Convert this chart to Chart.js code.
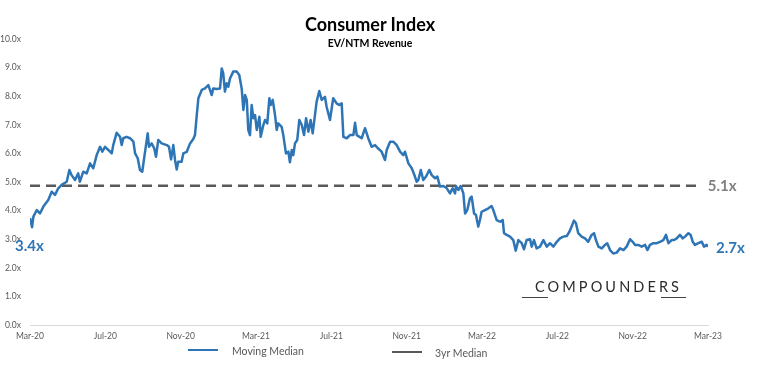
<!DOCTYPE html>
<html>
<head>
<meta charset="utf-8">
<script src="https://cdn.jsdelivr.net/npm/chart.js@4.4.1/dist/chart.umd.min.js"></script>
<style>
  html, body { margin: 0; padding: 0; background: #ffffff; }
  #wrap { position: relative; width: 769px; height: 368px; overflow: hidden; font-family: Lato, "Open Sans", sans-serif; }
  #c { position: absolute; left: 0; top: 0; }
  .t { position: absolute; white-space: nowrap; line-height: 1; transform: translate(-50%, -50%); }
  .l { position: absolute; white-space: nowrap; line-height: 1; transform: translate(0, -50%); }
  .ln { position: absolute; height: 0; }
</style>
</head>
<body>
<div id="wrap">
  <canvas id="c" width="769" height="368" style="width:769px;height:368px"></canvas>
  <div class="t" id="title" style="left:370px; top:24px; font-size:18px; font-weight:700; color:#000;"></div>
  <div class="t" id="subtitle" style="left:370px; top:42.5px; font-size:10.5px; font-weight:700; color:#000;"></div>
  <div class="ln" style="left:188px; top:349px; width:30px; border-top:2.5px solid #2E75B6;"></div>
  <div class="l" id="leg1" style="left:232px; top:351px; font-size:10.5px; color:#595959;"></div>
  <div class="ln" style="left:392px; top:351px; width:30px; border-top:2.5px solid #595959;"></div>
  <div class="l" id="leg2" style="left:435px; top:353px; font-size:10.5px; color:#595959;"></div>
  <div class="l" id="wm" style="left:535px; top:287px; font-size:14.5px; letter-spacing:3.1px; color:#2b2b2b;"></div>
  <div class="ln" style="left:522px; top:297px; width:26px; border-top:1.5px solid #444;"></div>
  <div class="ln" style="left:661px; top:297px; width:25px; border-top:1.5px solid #444;"></div>
</div>
<script>
// ---- Text ----
const titleText = 'Consumer Index';
const subtitleText = 'EV/NTM Revenue';
const seriesName = 'Moving Median';
const medianName = '3yr Median';
const watermarkText = 'COMPOUNDERS';
const labelStart = '3.4x';
const labelEnd = '2.7x';
const labelMedian = '5.1x';

// ---- Axis tick labels (every 4 months from Mar-20) ----
const tickLabels = ['Mar-20','Jul-20','Nov-20','Mar-21','Jul-21','Nov-21','Mar-22','Jul-22','Nov-22','Mar-23'];

// ---- Series: months since Mar-20, and EV/NTM revenue multiple ----
const months = [
  0,0.11,0.18,0.36,0.53,0.71,0.97,1.15,1.33,1.50,
  1.68,1.95,2.09,2.21,2.39,2.56,2.65,2.83,3.01,3.19,
  3.36,3.54,3.72,3.84,3.98,4.16,4.34,4.42,4.60,4.78,
  4.87,4.95,5.13,5.31,5.49,5.58,5.72,5.84,5.96,6.07,
  6.25,6.32,6.46,6.60,6.69,6.81,6.99,7.26,7.38,7.49,
  7.61,7.70,7.79,7.87,8.05,8.14,8.32,8.50,8.67,8.76,
  8.85,8.94,9.12,9.29,9.47,9.65,9.73,9.91,10.09,10.18,
  10.26,10.35,10.44,10.53,10.62,10.79,10.98,11.11,11.24,11.33,
  11.42,11.51,11.59,11.68,11.77,11.86,11.95,12.04,12.18,12.25,
  12.39,12.48,12.60,12.71,12.78,12.89,13.01,13.10,13.18,13.36,
  13.45,13.59,13.72,13.80,13.90,13.98,14.07,14.19,14.30,14.43,
  14.55,14.66,14.78,14.90,15.01,15.13,15.22,15.36,15.49,15.66,
  15.75,15.84,15.93,16.02,16.10,16.28,16.42,16.55,16.64,16.82,
  16.99,17.17,17.26,17.35,17.61,17.79,17.96,18.14,18.32,18.49,
  18.67,18.85,18.94,19.12,19.29,19.47,19.65,19.82,19.91,20.09,
  20.27,20.44,20.53,20.62,20.75,20.88,21.03,21.20,21.33,21.51,
  21.63,21.77,21.95,22.13,22.30,22.44,22.57,22.62,22.74,22.87,
  23.01,23.10,23.22,23.36,23.45,23.58,23.68,23.80,23.89,23.98,
  24.16,24.34,24.51,24.60,24.78,24.96,25.10,25.17,25.31,25.49,
  25.66,25.79,25.93,26.11,26.23,26.37,26.55,26.64,26.76,26.90,
  27.08,27.26,27.44,27.61,27.79,27.97,28.14,28.32,28.50,28.64,
  28.76,28.88,28.99,29.11,29.29,29.47,29.64,29.82,29.95,30.05,
  30.18,30.36,30.53,30.65,30.80,30.97,31.15,31.33,31.51,31.68,
  31.86,32.00,32.13,32.30,32.48,32.66,32.78,32.92,33.10,33.28,
  33.45,33.63,33.77,33.90,34.07,34.20,34.34,34.51,34.66,34.78,
  34.96,35.08,35.19,35.31,35.49,35.67,35.79,35.93,36.00
];
const values = [
  3.74,3.42,3.79,4.02,3.90,4.14,4.37,4.66,4.55,4.78,
  4.90,5.01,5.42,5.24,5.07,5.30,5.01,5.36,5.30,5.65,
  5.48,5.94,6.23,6.06,6.23,6.12,6.00,6.29,6.72,6.58,
  6.29,6.53,6.58,6.53,6.41,6.00,5.83,5.42,5.36,5.88,
  6.70,6.23,6.35,6.17,5.88,6.47,6.35,6.29,6.23,5.79,
  6.29,5.77,5.44,5.71,5.71,6.00,6.05,6.35,6.50,6.64,
  7.30,7.93,8.22,8.27,8.39,8.04,8.27,8.25,8.27,8.97,
  8.80,8.16,8.45,8.33,8.62,8.86,8.86,8.74,8.27,7.52,
  8.04,7.87,6.82,6.64,7.69,7.23,7.34,6.82,7.28,6.58,
  6.99,7.17,7.05,7.93,7.69,7.87,7.34,6.82,7.05,6.93,
  6.64,6.00,6.06,5.69,6.12,5.94,6.35,6.47,7.17,6.99,
  6.64,7.23,6.76,7.17,6.70,7.34,7.81,8.18,7.87,7.98,
  7.63,7.40,7.17,7.58,7.93,7.75,7.69,7.75,6.58,6.53,
  6.64,6.64,7.07,6.64,6.53,6.88,6.53,6.23,6.29,6.17,
  6.06,5.77,6.12,6.41,6.41,6.29,6.06,5.94,6.06,5.65,
  5.48,5.19,5.01,5.07,5.42,5.07,5.19,5.42,5.24,5.13,
  5.19,4.84,4.86,4.78,4.60,4.78,4.60,4.86,4.72,4.86,
  4.60,3.90,4.02,4.43,4.49,3.90,3.85,3.44,3.67,3.96,
  4.02,4.08,4.16,4.02,3.67,3.61,3.67,3.21,3.15,3.09,
  2.97,2.60,2.97,2.86,2.65,2.97,3.00,2.74,2.97,2.68,
  2.74,2.97,2.74,2.86,2.74,2.91,3.03,3.09,3.11,3.26,
  3.44,3.65,3.56,3.21,3.09,3.03,2.91,3.15,3.21,2.97,
  2.74,2.68,2.80,2.86,2.62,2.50,2.53,2.68,2.62,2.74,
  3.00,2.91,2.80,2.80,2.74,2.80,2.62,2.80,2.86,2.86,
  2.91,2.97,3.15,2.86,2.97,2.97,3.03,3.15,3.03,3.09,
  3.21,3.15,2.91,2.80,2.86,2.91,2.74,2.80,2.74
];

// ---- 3yr median reference line ----
const median3yr = 4.87;
const medianStartMonth = 0;
const medianEndMonth = 35.4;

document.getElementById('title').textContent = titleText;
document.getElementById('subtitle').textContent = subtitleText;
document.getElementById('leg1').textContent = seriesName;
document.getElementById('leg2').textContent = medianName;
document.getElementById('wm').textContent = watermarkText;

const BLUE = '#2E75B6';
const GRAY = '#595959';
const FONT = 'Lato, "Open Sans", sans-serif';

const n = Math.min(months.length, values.length);
const seriesData = [];
for (let i = 0; i < n; i++) seriesData.push({ x: months[i], y: values[i] });

const annotate = {
  id: 'annotate',
  afterDatasetsDraw(chart) {
    const { ctx, scales: { x, y } } = chart;
    ctx.save();
    ctx.font = 'bold 15px ' + FONT;
    ctx.textBaseline = 'middle';
    ctx.textAlign = 'left';
    ctx.fillStyle = BLUE;
    ctx.fillText(labelStart, x.getPixelForValue(months[0]) - 15, y.getPixelForValue(values[0]) + 28);
    ctx.fillText(labelEnd, x.getPixelForValue(months[n - 1]) + 8, y.getPixelForValue(values[n - 1]) + 2);
    ctx.fillStyle = '#808080';
    ctx.fillText(labelMedian, x.getPixelForValue(medianEndMonth) + 11, y.getPixelForValue(median3yr));
    ctx.restore();
  }
};

new Chart(document.getElementById('c'), {
  type: 'line',
  data: {
    datasets: [
      {
        label: medianName,
        data: [{ x: medianStartMonth, y: median3yr }, { x: medianEndMonth, y: median3yr }],
        borderColor: GRAY,
        borderWidth: 2.5,
        borderDash: [10, 6],
        pointRadius: 0,
        fill: false,
        order: 2
      },
      {
        label: seriesName,
        data: seriesData,
        borderColor: BLUE,
        borderWidth: 2.5,
        borderJoinStyle: 'round',
        pointRadius: 0,
        tension: 0,
        fill: false,
        order: 1
      }
    ]
  },
  options: {
    responsive: false,
    animation: false,
    devicePixelRatio: 1,
    layout: { padding: { top: 39, right: 61, bottom: 0, left: 0 } },
    plugins: {
      legend: { display: false },
      title: { display: false },
      tooltip: { enabled: false }
    },
    scales: {
      x: {
        type: 'linear',
        min: 0,
        max: 36,
        grid: { display: false, drawTicks: false },
        border: { display: true, color: '#d9d9d9', width: 1 },
        ticks: {
          stepSize: 4,
          autoSkip: false,
          maxRotation: 0,
          padding: 6,
          color: GRAY,
          font: { family: FONT, size: 8.5 },
          callback: (v) => tickLabels[Math.round(v / 4)] || ''
        },
        afterFit: (s) => { s.height = 43; }
      },
      y: {
        min: 0,
        max: 10,
        grid: { display: false, drawTicks: false },
        border: { display: false },
        ticks: {
          stepSize: 1,
          padding: 9,
          color: GRAY,
          font: { family: FONT, size: 8.5 },
          callback: (v) => v.toFixed(1) + 'x'
        },
        afterFit: (s) => { s.width = 30; }
      }
    }
  },
  plugins: [annotate]
});
</script>
</body>
</html>
